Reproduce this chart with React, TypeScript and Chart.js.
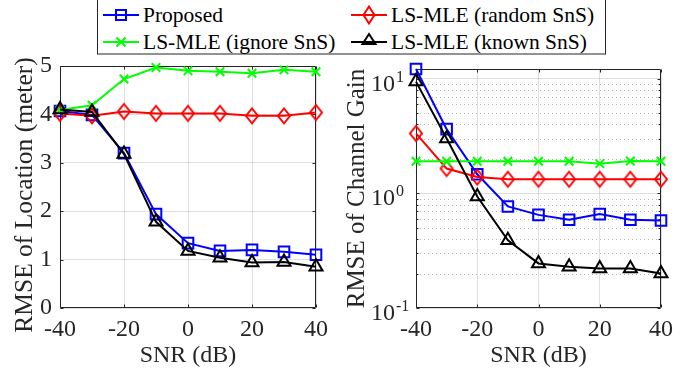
import React, { useEffect, useRef } from 'react';
import { Chart, registerables } from 'chart.js';

Chart.register(...registerables);

const FONT = "'Liberation Serif', 'Times New Roman', Times, serif";
const INK = '#262626';
const GRID = 'rgba(38,38,38,0.15)';
const MINOR_GRID = 'rgba(38,38,38,0.35)';

// ---- data ----
const SNR = [-40, -30, -20, -10, 0, 10, 20, 30, 40];
const X_TICKS = [-40, -20, 0, 20, 40];
const LOC_TICKS = [0, 1, 2, 3, 4, 5];
const GAIN_DECADES = [0.1, 1, 10];

const locProposed = [4.07, 3.99, 3.2, 1.94, 1.34, 1.18, 1.2, 1.16, 1.1];
const locRandom = [4.02, 3.97, 4.06, 4.02, 4.02, 4.02, 3.97, 3.97, 4.04];
const locIgnore = [4.09, 4.19, 4.73, 4.97, 4.9, 4.88, 4.85, 4.92, 4.88];
const locKnown = [4.1, 4.05, 3.18, 1.78, 1.18, 1.04, 0.94, 0.95, 0.85];

const gainProposed = [12.2, 3.64, 1.47, 0.77, 0.65, 0.59, 0.66, 0.59, 0.58];
const gainRandom = [3.34, 1.65, 1.39, 1.33, 1.33, 1.33, 1.33, 1.33, 1.33];
const gainIgnore = [1.91, 1.91, 1.91, 1.91, 1.91, 1.91, 1.82, 1.92, 1.91];
const gainKnown = [9.47, 3.02, 0.94, 0.39, 0.245, 0.229, 0.221, 0.221, 0.2];

const LABELS = ['Proposed', 'LS-MLE (random SnS)', 'LS-MLE (ignore SnS)', 'LS-MLE (known SnS)'];
const LOC_TITLE = 'RMSE of Location (meter)';
const GAIN_TITLE = 'RMSE of Channel Gain';
const X_TITLE = 'SNR (dB)';

// ---- styles ----
const STYLES = [
  { color: '#0000ff', point: 'rect', radius: 7.5, order: 3 },
  { color: '#ff0000', point: 'diamond', radius: 7, order: 2 },
  { color: '#00ff00', point: 'crossRot', radius: 6, order: 1 },
  { color: '#000000', point: 'triangle', radius: 7.5, order: 0 },
];

function diamondCanvas(color: string) {
  const c = document.createElement('canvas');
  const w = 16;
  const h = 20;
  c.width = w;
  c.height = h;
  const g = c.getContext('2d') as CanvasRenderingContext2D;
  g.strokeStyle = color;
  g.lineWidth = 2;
  g.lineJoin = 'miter';
  g.beginPath();
  g.moveTo(w / 2, 2.5);
  g.lineTo(w / 2 + 6, h / 2);
  g.lineTo(w / 2, h - 2.5);
  g.lineTo(w / 2 - 6, h / 2);
  g.closePath();
  g.stroke();
  return c;
}

function makeDatasets(values: number[][]) {
  return STYLES.map((s, i) => ({
    label: LABELS[i],
    data: SNR.map((x, j) => ({ x, y: values[i][j] })),
    borderColor: s.color,
    backgroundColor: s.color,
    borderWidth: 2,
    pointStyle: s.point === 'diamond' ? diamondCanvas(s.color) : s.point,
    pointRadius: s.radius,
    pointHoverRadius: s.radius,
    pointBorderWidth: 2,
    pointBorderColor: s.color,
    pointBackgroundColor: 'rgba(0,0,0,0)',
    tension: 0,
    clip: false as any,
    order: s.order,
  }));
}

const framePlugin = {
  id: 'frame',
  beforeDatasetsDraw(chart: any, _args: any, opts: any) {
    const { ctx, chartArea: a } = chart;
    const xs = chart.scales.x;
    const ys = chart.scales.y;
    const L = Math.round(a.left) + 0.5;
    const R = Math.round(a.right) - 0.5;
    const T = Math.round(a.top) + 0.5;
    const B = Math.round(a.bottom) - 0.5;
    ctx.save();
    if (opts.minor) {
      ctx.strokeStyle = MINOR_GRID;
      ctx.lineWidth = 1;
      ctx.setLineDash([1, 3]);
      for (const v of opts.minor) {
        const y = Math.round(ys.getPixelForValue(v)) + 0.5;
        if (y <= a.top || y >= a.bottom) continue;
        ctx.beginPath();
        ctx.moveTo(a.left, y);
        ctx.lineTo(a.right, y);
        ctx.stroke();
      }
      ctx.setLineDash([]);
    }
    ctx.strokeStyle = INK;
    ctx.lineWidth = 1;
    ctx.beginPath();
    ctx.rect(L, T, R - L, B - T);
    ctx.stroke();
    const tl = 3;
    ctx.beginPath();
    for (const v of opts.xTicks) {
      const x = Math.round(xs.getPixelForValue(v)) + 0.5;
      ctx.moveTo(x, B);
      ctx.lineTo(x, B - tl);
      ctx.moveTo(x, T);
      ctx.lineTo(x, T + tl);
    }
    for (const v of opts.yTicks) {
      const y = Math.round(ys.getPixelForValue(v)) + 0.5;
      ctx.moveTo(L, y);
      ctx.lineTo(L + tl, y);
      ctx.moveTo(R, y);
      ctx.lineTo(R - tl, y);
    }
    if (opts.minor) {
      for (const v of opts.minor) {
        const y = Math.round(ys.getPixelForValue(v)) + 0.5;
        if (y <= a.top || y >= a.bottom) continue;
        ctx.moveTo(L, y);
        ctx.lineTo(L + 2, y);
        ctx.moveTo(R, y);
        ctx.lineTo(R - 2, y);
      }
    }
    ctx.stroke();
    ctx.restore();
  },
  afterDraw(chart: any, _args: any, opts: any) {
    const { ctx } = chart;
    const ys = chart.scales.y;
    ctx.save();
    ctx.fillStyle = INK;
    if (opts.logLabels) {
      ctx.textBaseline = 'alphabetic';
      for (const v of opts.logLabels) {
        const y = ys.getPixelForValue(v);
        const e = Math.round(Math.log10(v));
        ctx.font = `24px ${FONT}`;
        ctx.textAlign = 'right';
        ctx.fillText('10', opts.labelRight, y + 12);
        ctx.font = `16px ${FONT}`;
        ctx.textAlign = 'left';
        ctx.fillText(String(e), opts.labelRight + 1, y + 3);
      }
    }
    if (opts.yTitle) {
      const t = opts.yTitle;
      ctx.font = `${t.size}px ${FONT}`;
      ctx.textAlign = 'center';
      ctx.textBaseline = 'middle';
      ctx.translate(t.x, t.y);
      ctx.rotate(-Math.PI / 2);
      ctx.fillText(t.text, 0, 0);
    }
    ctx.restore();
  },
};

function minorValues(decades: number[], max: number) {
  const out: number[] = [];
  for (const d of decades) {
    for (let k = 2; k <= 9; k++) {
      const v = d * k;
      if (v < max) out.push(v);
    }
  }
  return out;
}

function xScale() {
  return {
    type: 'linear',
    min: -40,
    max: 40,
    afterBuildTicks: (s: any) => {
      s.ticks = X_TICKS.map((v) => ({ value: v }));
    },
    afterFit: (s: any) => {
      s.height = 62;
    },
    grid: { color: GRID, drawTicks: false, lineWidth: 1 },
    border: { display: false },
    ticks: {
      font: { family: FONT, size: 24, lineHeight: 1 },
      color: INK,
      padding: 10,
      maxRotation: 0,
      autoSkip: false,
    },
    title: {
      display: true,
      text: X_TITLE,
      font: { family: FONT, size: 24, lineHeight: 1 },
      color: INK,
      padding: { top: 0, bottom: 2 },
    },
  };
}

export default function App() {
  const leftRef = useRef<HTMLCanvasElement>(null);
  const rightRef = useRef<HTMLCanvasElement>(null);

  useEffect(() => {
    const gainMax = 12.2;
    const left = new Chart(leftRef.current as HTMLCanvasElement, {
      type: 'line',
      data: { datasets: makeDatasets([locProposed, locRandom, locIgnore, locKnown]) as any },
      plugins: [framePlugin as any],
      options: {
        responsive: false,
        animation: false,
        events: [],
        layout: { padding: { top: 66, right: 29, left: 0, bottom: 0 } },
        plugins: {
          legend: { display: false },
          tooltip: { enabled: false },
          frame: { xTicks: X_TICKS, yTicks: LOC_TICKS, yTitle: { text: LOC_TITLE, size: 25.5, x: 25, y: 195 } },
        } as any,
        scales: {
          x: xScale() as any,
          y: {
            type: 'linear',
            min: 0,
            max: 5,
            afterBuildTicks: (s: any) => {
              s.ticks = LOC_TICKS.map((v) => ({ value: v }));
            },
            afterFit: (s: any) => {
              s.width = 60;
            },
            grid: { color: GRID, drawTicks: false, lineWidth: 1 },
            border: { display: false },
            ticks: { font: { family: FONT, size: 24, lineHeight: 1 }, color: INK, padding: 8 },
          } as any,
        },
      },
    });

    const right = new Chart(rightRef.current as HTMLCanvasElement, {
      type: 'line',
      data: { datasets: makeDatasets([gainProposed, gainRandom, gainIgnore, gainKnown]) as any },
      plugins: [framePlugin as any],
      options: {
        responsive: false,
        animation: false,
        events: [],
        layout: { padding: { top: 69, right: 37, left: 0, bottom: 0 } },
        plugins: {
          legend: { display: false },
          tooltip: { enabled: false },
          frame: {
            xTicks: X_TICKS,
            yTicks: GAIN_DECADES,
            minor: minorValues(GAIN_DECADES, gainMax),
            logLabels: GAIN_DECADES,
            labelRight: 50,
          },
        } as any,
        scales: {
          x: xScale() as any,
          y: {
            type: 'logarithmic',
            min: 0.1,
            max: gainMax,
            afterBuildTicks: (s: any) => {
              s.ticks = GAIN_DECADES.map((v) => ({ value: v }));
            },
            afterFit: (s: any) => {
              s.width = 71;
            },
            grid: { color: GRID, drawTicks: false, lineWidth: 1 },
            border: { display: false },
            ticks: { display: false },
            title: {
              display: true,
              text: GAIN_TITLE,
              font: { family: FONT, size: 25, lineHeight: 1 },
              color: INK,
              padding: { top: 0, bottom: 0 },
            },
          } as any,
        },
      },
    });

    return () => {
      left.destroy();
      right.destroy();
    };
  }, []);

  const legendEntries = [
    { cx: 121, cy: 15, tx: 143, ty: 21.7, i: 0 },
    { cx: 369, cy: 15, tx: 391, ty: 21.7, i: 1 },
    { cx: 121, cy: 42, tx: 143, ty: 48.5, i: 2 },
    { cx: 369, cy: 42, tx: 391, ty: 48.5, i: 3 },
  ];

  const marker = (i: number, cx: number, cy: number) => {
    const c = STYLES[i].color;
    const common = { fill: 'none', stroke: c, strokeWidth: 2 };
    if (i === 0) return <rect x={cx - 5} y={cy - 5} width={10} height={10} {...common} />;
    if (i === 1)
      return <polygon points={`${cx},${cy - 8.5} ${cx + 5.5},${cy} ${cx},${cy + 8.5} ${cx - 5.5},${cy}`} {...common} />;
    if (i === 2)
      return (
        <path d={`M${cx - 4.5},${cy - 4.5}L${cx + 4.5},${cy + 4.5}M${cx - 4.5},${cy + 4.5}L${cx + 4.5},${cy - 4.5}`} {...common} />
      );
    return <polygon points={`${cx},${cy - 8} ${cx + 6.5},${cy + 2} ${cx - 6.5},${cy + 2}`} {...common} />;
  };

  return (
    <div style={{ position: 'absolute', left: 0, top: 0, width: 698, height: 370, background: '#fff', overflow: 'hidden' }}>
      <canvas ref={leftRef} width={345} height={370} style={{ position: 'absolute', left: 0, top: 0, width: 345, height: 370 }} />
      <canvas ref={rightRef} width={353} height={370} style={{ position: 'absolute', left: 345, top: 0, width: 353, height: 370 }} />
      <svg width={698} height={60} style={{ position: 'absolute', left: 0, top: 0 }}>
        <rect x={97.5} y={-1} width={508} height={55} fill="#fff" stroke={INK} strokeWidth={1} />
        {legendEntries.map((e) => (
          <g key={e.i}>
            <line x1={e.cx - 18} y1={e.cy} x2={e.cx + 18} y2={e.cy} stroke={STYLES[e.i].color} strokeWidth={2} />
            {marker(e.i, e.cx, e.cy)}
            <text x={e.tx} y={e.ty} style={{ fontFamily: FONT, fontSize: '21.5px' }} fill="#000">
              {LABELS[e.i]}
            </text>
          </g>
        ))}
      </svg>
    </div>
  );
}
